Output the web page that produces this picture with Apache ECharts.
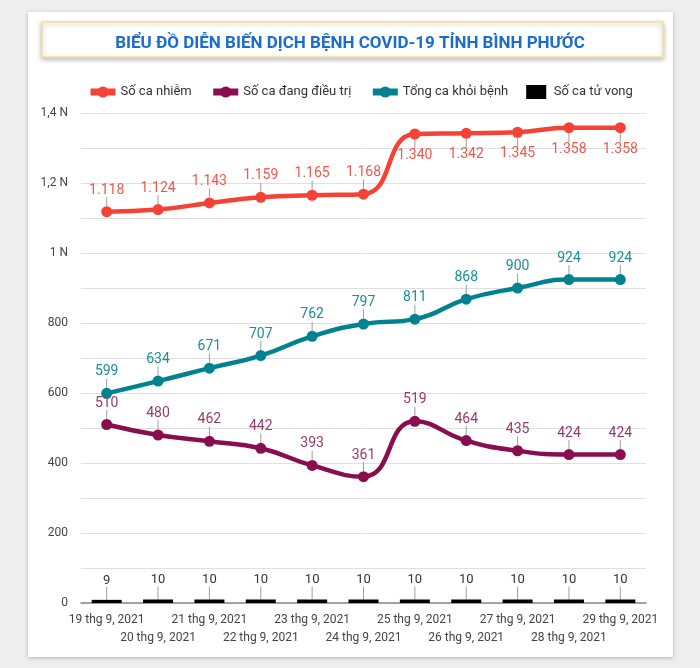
<!DOCTYPE html>
<html><head><meta charset="utf-8">
<script src="https://cdn.jsdelivr.net/npm/echarts@6/dist/echarts.min.js"></script>
<style>html,body{margin:0;padding:0;background:#eeeeee;}#c{width:700px;height:668px;}</style>
</head><body><div id="c"></div>
<script>
const titleText = 'BIỂU ĐỒ DIỄN BIẾN DỊCH BỆNH COVID-19 TỈNH BÌNH PHƯỚC';
const categories = ['19 thg 9, 2021','20 thg 9, 2021','21 thg 9, 2021','22 thg 9, 2021','23 thg 9, 2021','24 thg 9, 2021','25 thg 9, 2021','26 thg 9, 2021','27 thg 9, 2021','28 thg 9, 2021','29 thg 9, 2021'];
const infected = [1118,1124,1143,1159,1165,1168,1340,1342,1345,1358,1358];
const treating = [510,480,462,442,393,361,519,464,435,424,424];
const recovered = [599,634,671,707,762,797,811,868,900,924,924];
const deaths = [9,10,10,10,10,10,10,10,10,10,10];
const seriesNames = ['Số ca nhiễm','Số ca đang điều trị','Tổng ca khỏi bệnh','Số ca tử vong'];

const fmt = v => String(v).replace(/\B(?=(\d{3})+$)/g, '.');
const font = 'Roboto, "Noto Sans", sans-serif';
const chart = echarts.init(document.getElementById('c'));
const guide = {show:true, lineStyle:{color:'#9e9e9e', width:1}};
function lineSeries(name, data, color, labelColor, belowFrom){
  return {
    name, type:'line', data: data.map((v,i)=> (belowFrom!=null && i>=belowFrom) ? {value:v, label:{position:'bottom'}} : v),
    smooth:0.5, symbol:'circle', symbolSize:11, showSymbol:true,
    lineStyle:{color, width:4.5}, itemStyle:{color},
    label:{show:true, position:'top', distance:1, color:labelColor, fontSize:14, fontFamily:font, formatter:p=>fmt(p.value)},
    labelLayout: p => ({dy: (belowFrom!=null && p.dataIndex>=belowFrom) ? 8 : -8}),
    labelLine: guide, z:3
  };
}
chart.setOption({
  backgroundColor:'#eeeeee',
  graphic:[
    {type:'rect', shape:{x:28,y:12,width:645,height:645}, style:{fill:'#fff', shadowBlur:4, shadowColor:'rgba(0,0,0,0.25)', shadowOffsetY:1}, z:-10},
    {type:'rect', shape:{x:42,y:22,width:621,height:35}, style:{fill:'#fff', stroke:'#f3e19c', lineWidth:1.5, shadowBlur:5, shadowColor:'rgba(0,0,0,0.25)', shadowOffsetY:2}, z:-9}
  ],
  title:{text:titleText, left:'center', top:30, textStyle:{color:'#1a6dcc', fontSize:17, fontWeight:'bold', fontFamily:font}},
  legend:{top:80, left:82, itemWidth:25, itemHeight:14, itemGap:18, lineStyle:{width:7},
    textStyle:{color:'#333', fontSize:13, fontFamily:font},
    data:[seriesNames[0], seriesNames[1], seriesNames[2], {name:seriesNames[3], icon:'path://M0,0h20v14h-20z'}]},
  grid:{left:81, right:54, top:113, bottom:65},
  xAxis:{type:'category', data:categories, boundaryGap:true,
    axisLine:{lineStyle:{color:'#888', width:1.5}}, axisTick:{show:false},
    axisLabel:{interval:0, color:'#444', fontSize:12, fontFamily:font, margin:8, lineHeight:18, formatter:(v,i)=> i%2 ? '\n'+v : v}},
  yAxis:{type:'value', min:0, max:1400, interval:100,
    axisLine:{show:false}, axisTick:{show:false},
    splitLine:{lineStyle:{color:'#e0e0e0'}},
    axisLabel:{color:'#444', fontSize:12, fontFamily:font, margin:13,
      formatter:v=> v%200 ? '' : (v>=1000 ? String(v/1000).replace('.',',')+' N' : String(v))}},
  series:[
    lineSeries(seriesNames[0], infected, '#f44336', '#f2574c', 6),
    lineSeries(seriesNames[1], treating, '#880e4f', '#993a6e'),
    lineSeries(seriesNames[2], recovered, '#00838f', '#1a8f98'),
    {name:seriesNames[3], type:'bar', data:deaths, barWidth:30, itemStyle:{color:'#000'},
     label:{show:true, position:'top', distance:0, color:'#333', fontSize:13, fontFamily:font},
     labelLayout:{dy:-13}, labelLine:guide}
  ]
});
</script></body></html>
